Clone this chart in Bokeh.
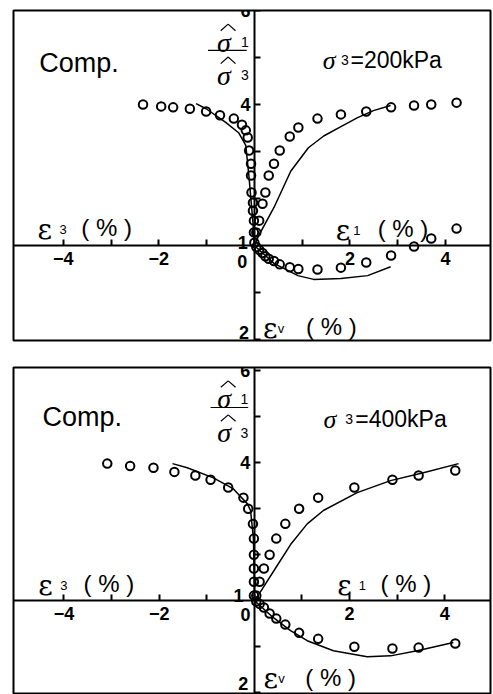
import numpy as np
from bokeh.plotting import figure
from bokeh.layouts import column
from bokeh.models import Range1d, FixedTicker, Label, Arrow
from bokeh.embed import file_html
from bokeh.resources import INLINE

# ---------------- data: sigma3 = 200 kPa ----------------
e1_200 = [0.04, 0.10, 0.17, 0.23, 0.30, 0.41, 0.53, 0.74, 0.92, 1.32, 1.81, 2.34, 2.86, 3.34, 3.70, 4.23]
R1_200 = [1.28, 1.53, 1.89, 2.13, 2.49, 2.74, 3.02, 3.32, 3.51, 3.70, 3.79, 3.85, 3.94, 3.98, 4.00, 4.04]
ev_200 = [0.03, 0.09, 0.16, 0.23, 0.28, 0.33, 0.40, 0.46, 0.50, 0.51, 0.47, 0.36, 0.21, 0.02, -0.15, -0.36]
e3_200 = [-2.33, -1.95, -1.70, -1.35, -1.01, -0.72, -0.43, -0.26, -0.18, -0.14, -0.11, -0.07, -0.07,
          -0.06, -0.03, -0.03, -0.01, -0.01, 0.0]
R3_200 = [4.00, 3.96, 3.94, 3.91, 3.85, 3.77, 3.70, 3.57, 3.45, 3.30, 3.02, 2.74, 2.49, 2.13, 1.91,
          1.74, 1.53, 1.28, 1.06]
fit_e1_200 = [0.0, 0.09, 0.41, 0.76, 1.13, 1.45, 1.81, 2.16, 2.49, 2.85]
fit_R1_200 = [1.0, 1.21, 1.81, 2.58, 3.08, 3.33, 3.53, 3.72, 3.87, 3.98]
fit_e3_200 = [0.0, -0.03, -0.11, -0.18, -0.33, -0.60, -1.01, -1.22]
fit_R3_200 = [1.0, 1.49, 2.43, 3.13, 3.40, 3.62, 3.91, 4.02]
fit_ve1_200 = [0.0, 0.41, 0.91, 1.24, 1.81, 2.37, 2.85]
fit_ev_200 = [0.0, 0.38, 0.64, 0.72, 0.70, 0.64, 0.45]

# ---------------- data: sigma3 = 400 kPa ----------------
e1_400 = [0.04, 0.11, 0.20, 0.32, 0.46, 0.65, 0.94, 1.34, 2.10, 2.90, 3.45, 4.22]
R1_400 = [1.11, 1.41, 1.70, 2.00, 2.35, 2.67, 3.00, 3.24, 3.46, 3.63, 3.72, 3.83]
ev_400 = [0.02, 0.07, 0.15, 0.28, 0.39, 0.52, 0.70, 0.83, 1.00, 1.04, 1.02, 0.93]
e3_400 = [-3.09, -2.61, -2.12, -1.68, -1.24, -0.92, -0.55, -0.23, -0.13, -0.03, -0.01, -0.01,
          -0.01, -0.01, -0.01]
R3_400 = [3.98, 3.93, 3.89, 3.80, 3.72, 3.63, 3.46, 3.24, 3.00, 2.67, 2.35, 2.00, 1.70, 1.41, 1.11]
fit_e1_400 = [0.0, 0.17, 0.44, 0.76, 1.11, 1.45, 2.16, 2.86, 3.55, 4.29]
fit_R1_400 = [1.0, 1.26, 1.70, 2.22, 2.67, 2.96, 3.35, 3.61, 3.78, 3.98]
fit_e3_400 = [0.0, 0.0, -0.02, -0.08, -0.15, -0.44, -0.86, -1.41, -1.72]
fit_R3_400 = [1.0, 1.26, 2.35, 2.96, 3.11, 3.43, 3.67, 3.89, 3.98]
fit_ve1_400 = [0.0, 0.40, 0.76, 1.11, 1.66, 2.37, 2.86, 3.42, 4.18]
fit_ev_400 = [0.0, 0.37, 0.65, 0.87, 1.09, 1.22, 1.20, 1.09, 0.91]

# tick labels
x_ticks = [-4, -3, -2, -1, 0, 1, 2, 3, 4]
x_tick_text = {-4: "\u22124", -3: "", -2: "\u22122", -1: "", 0: "", 1: "", 2: "2", 3: "", 4: "4"}
y_ticks = [-2, -1, 1, 2, 3, 4, 5]          # plotted as (ratio - 1) above, -eps_v below
y_tick_text = {-2: "", -1: "", 1: "", 2: "", 3: "4", 4: "", 5: "6"}

SANS = "Liberation Sans"
SERIF = "Liberation Serif"


def lab(p, x, y, text, size, font=SANS, style="normal", align="left", baseline="alphabetic"):
    p.add_layout(Label(x=x, y=y, text=text, text_font=font, text_font_size=f"{size}px",
                       text_font_style=style, text_align=align, text_baseline=baseline,
                       text_color="black"))


def seg(p, x0, y0, x1, y1, w=1.2):
    p.add_layout(Arrow(x_start=x0, y_start=y0, x_end=x1, y_end=y1, start=None, end=None,
                       line_color="black", line_width=w))


def hatted_sigma(p, x, y):
    lab(p, x, y, "\u03c3", 28, font=SERIF, style="italic")
    xc = x + 0.23
    seg(p, xc - 0.155, y + 0.25, xc, y + 0.39)
    seg(p, xc, y + 0.39, xc + 0.155, y + 0.25)


def panel(e1, R1, ev, e3, R3, fe1, fR1, fe3, fR3, fve1, fev, s3text,
          xr, yr, width, height, bl, bt, bb, pos):
    p = figure(width=width, height=height, output_backend="svg", toolbar_location=None,
               x_range=Range1d(*xr), y_range=Range1d(*yr), min_border_left=bl,
               min_border_right=2, min_border_top=bt, min_border_bottom=bb)
    p.background_fill_color = "white"
    p.border_fill_color = "white"
    p.outline_line_color = "black"
    p.outline_line_width = 2
    p.grid.visible = False

    for ax in (p.xaxis[0], p.yaxis[0]):
        ax.fixed_location = 0
        ax.axis_line_width = 2
        ax.axis_line_color = "black"
        ax.major_tick_line_width = 2
        ax.major_tick_in = 6
        ax.major_tick_out = 0
        ax.minor_tick_line_color = None
        ax.major_label_text_font = SANS
        ax.major_label_text_font_style = "bold"
        ax.major_label_text_font_size = "18px"
        ax.major_label_text_color = "black"
    p.xaxis.ticker = FixedTicker(ticks=x_ticks)
    p.xaxis.major_label_overrides = x_tick_text
    p.xaxis.major_label_standoff = 6
    p.yaxis.ticker = FixedTicker(ticks=y_ticks)
    p.yaxis.major_label_overrides = y_tick_text
    p.yaxis.major_label_standoff = 4

    up1 = np.array(R1) - 1.0
    up3 = np.array(R3) - 1.0
    dn = -np.array(ev)
    # model curves
    p.line(fe1, np.array(fR1) - 1.0, line_color="black", line_width=1.5)
    p.line(fe3, np.array(fR3) - 1.0, line_color="black", line_width=1.5)
    p.line(fve1, -np.array(fev), line_color="black", line_width=1.5)
    # test data
    for xs, ys in ((e1, up1), (e3, up3), (e1, dn)):
        p.scatter(xs, ys, marker="circle", size=8.5, fill_color=None,
                  line_color="black", line_width=2)

    # texts
    lab(p, *pos["comp"], "Comp.", 27)
    lab(p, *pos["sig"], "\u03c3", 26, font=SERIF, style="italic")
    lab(p, *pos["sig3"], "3", 14)
    lab(p, *pos["kpa"], s3text, 23)
    # fraction sigma1 / sigma3
    hatted_sigma(p, *pos["ftop"])
    lab(p, *pos["ftop1"], "1", 14)
    hatted_sigma(p, *pos["fbot"])
    lab(p, *pos["fbot3"], "3", 14)
    fx0, fx1, fy = pos["fline"]
    seg(p, fx0, fy, fx1, fy)
    # special axis numbers
    lab(p, *pos["one"], "1", 18, style="bold", align="right")
    lab(p, *pos["zero"], "0", 18, style="bold", align="right", baseline="top")
    lab(p, *pos["two"], "2", 18, style="bold", align="right")
    # axis titles
    for key, sub in (("e3", "3"), ("e1", "1"), ("ev", "v")):
        ex, ey = pos[key]
        sx, px_ = pos[key + "s"], pos[key + "p"]
        lab(p, ex, ey, "\u03b5", 28, font="DejaVu Serif")
        lab(p, sx, ey, sub, 13)
        lab(p, px_, ey + 0.04, "( % )", 24)
    return p


pos1 = dict(comp=(-4.50, 3.89), sig=(1.43, 3.94), sig3=(1.81, 3.94), kpa=(2.01, 3.94),
            ftop=(-0.78, 4.32), ftop1=(-0.28, 4.32), fbot=(-0.78, 3.62), fbot3=(-0.28, 3.62),
            fline=(-0.97, -0.16, 4.15), one=(-0.14, 0.06), zero=(-0.15, -0.21), two=(-0.11, -1.85),
            e3=(-4.54, 0.34), e3s=-4.08, e3p=-3.62,
            e1=(1.70, 0.33), e1s=2.07, e1p=2.58,
            ev=(0.18, -1.77), evs=0.49, evp=1.08)
pos2 = dict(comp=(-4.45, 4.0), sig=(1.45, 3.95), sig3=(1.91, 3.95), kpa=(2.12, 3.95),
            ftop=(-0.78, 4.39), ftop1=(-0.29, 4.39), fbot=(-0.78, 3.65), fbot3=(-0.29, 3.65),
            fline=(-0.92, -0.13, 4.2), one=(-0.23, 0.11), zero=(-0.08, -0.17), two=(-0.13, -1.80),
            e3=(-4.54, 0.33), e3s=-4.08, e3p=-3.59,
            e1=(1.74, 0.33), e1s=2.19, e1p=2.65,
            ev=(0.19, -1.70), evs=0.50, evp=1.07)

p1 = panel(e1_200, R1_200, ev_200, e3_200, R3_200, fit_e1_200, fit_R1_200, fit_e3_200, fit_R3_200,
           fit_ve1_200, fit_ev_200, "=200kPa", (-5.04, 4.94), (-2.02, 5.0),
           492, 353, 12, 10, 13, pos1)
p2 = panel(e1_400, R1_400, ev_400, e3_400, R3_400, fit_e1_400, fit_R1_400, fit_e3_400, fit_R3_400,
           fit_ve1_400, fit_ev_400, "=400kPa", (-5.06, 4.96), (-2.04, 5.07),
           492, 341, 13, 14, 0, pos2)

layout = column(p1, p2)
open("out.html", "w").write(file_html(layout, INLINE))
